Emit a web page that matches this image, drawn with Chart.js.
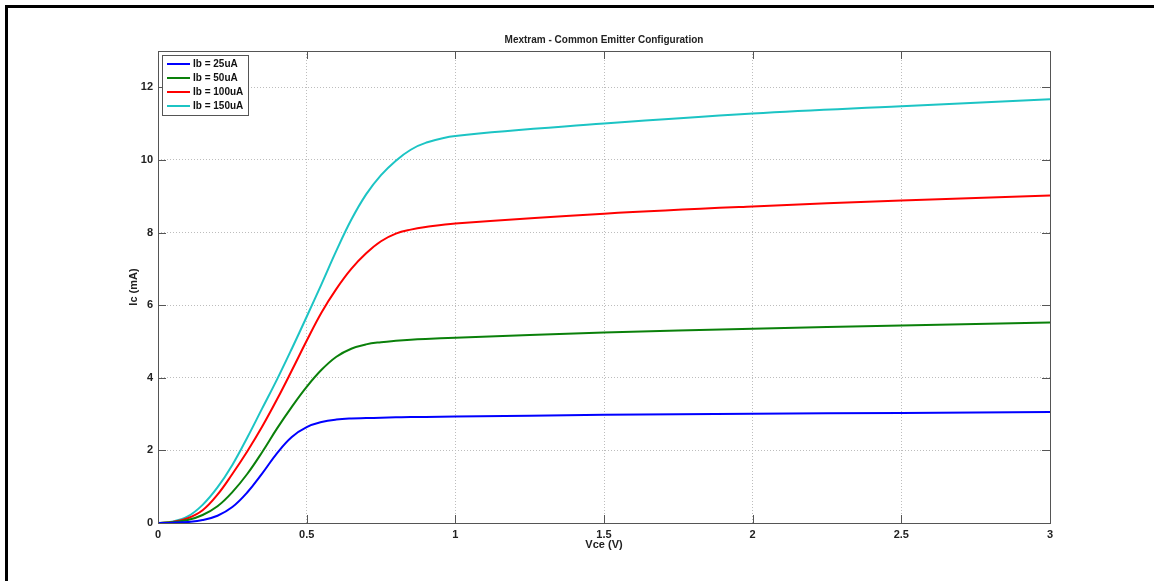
<!DOCTYPE html>
<html>
<head>
<meta charset="utf-8">
<script src="https://cdn.jsdelivr.net/npm/chart.js@4"></script>
<style>
  html, body { margin: 0; padding: 0; background: #fff; }
  #ic-chart { display: block; }
</style>
</head>
<body>
<canvas id="ic-chart" width="1154" height="581"></canvas>
<script>
// data
const vce = [0, 0.05, 0.1, 0.15, 0.2, 0.25, 0.3, 0.35, 0.4, 0.45, 0.5, 0.55, 0.6, 0.65, 0.7, 0.75, 0.8, 0.85, 0.9, 1.0, 1.5, 2, 2.5, 3];
const ib25 = [0, 0.01, 0.03, 0.08, 0.2, 0.44, 0.84, 1.36, 1.92, 2.37, 2.64, 2.78, 2.85, 2.88, 2.89, 2.9, 2.91, 2.92, 2.92, 2.93, 2.98, 3.01, 3.03, 3.06];
const ib50 = [0, 0.02, 0.08, 0.22, 0.46, 0.85, 1.35, 1.95, 2.6, 3.2, 3.75, 4.22, 4.58, 4.8, 4.92, 4.98, 5.02, 5.05, 5.07, 5.1, 5.25, 5.35, 5.44, 5.52];
const ib100 = [0, 0.03, 0.13, 0.35, 0.78, 1.35, 1.97, 2.65, 3.4, 4.2, 5.02, 5.8, 6.45, 7.0, 7.43, 7.76, 7.97, 8.08, 8.15, 8.25, 8.52, 8.72, 8.88, 9.02];
const ib150 = [0, 0.04, 0.18, 0.5, 0.98, 1.6, 2.35, 3.15, 3.95, 4.8, 5.68, 6.58, 7.5, 8.35, 9.05, 9.58, 9.98, 10.28, 10.47, 10.66, 11.0, 11.28, 11.48, 11.67];
const seriesLabels = ['Ib = 25uA', 'Ib = 50uA', 'Ib = 100uA', 'Ib = 150uA'];
const xTicks = [0, 0.5, 1, 1.5, 2, 2.5, 3];
const yTicks = [0, 2, 4, 6, 8, 10, 12];

const colors = ['#0000ff', '#0a800a', '#ff0000', '#1cc4c4'];
const font = "'Liberation Sans', Arial, sans-serif";

function pts(ys) {
    return vce.map(function (x, i) { return { x: x, y: ys[i] }; });
}

// title, outer frame, box, inward ticks and legend, matlab style
const matlabLook = {
    id: 'matlabLook',
    beforeDraw: function (chart) {
        const ctx = chart.ctx;
        ctx.save();
        ctx.fillStyle = '#000';
        ctx.fillRect(5, 5, chart.width - 5, 3);
        ctx.fillRect(5, 5, 3, chart.height - 5);
        ctx.restore();
    },
    afterDatasetsDraw: function (chart) {
        const ctx = chart.ctx;
        const a = chart.chartArea;
        const xs = chart.scales.x, ys = chart.scales.y;
        ctx.save();

        // box
        ctx.strokeStyle = '#555';
        ctx.lineWidth = 1;
        ctx.strokeRect(a.left + 0.5, a.top + 0.5, a.right - a.left, a.bottom - a.top);

        // inward ticks
        ctx.beginPath();
        xTicks.forEach(function (v) {
            const px = Math.round(xs.getPixelForValue(v)) + 0.5;
            ctx.moveTo(px, a.bottom); ctx.lineTo(px, a.bottom - 8);
            ctx.moveTo(px, a.top); ctx.lineTo(px, a.top + 8);
        });
        yTicks.forEach(function (v) {
            const py = Math.round(ys.getPixelForValue(v)) + 0.5;
            ctx.moveTo(a.left, py); ctx.lineTo(a.left + 8, py);
            ctx.moveTo(a.right, py); ctx.lineTo(a.right - 8, py);
        });
        ctx.stroke();

        // title
        ctx.fillStyle = '#222';
        ctx.font = 'bold 10px ' + font;
        ctx.textAlign = 'center';
        ctx.textBaseline = 'middle';
        ctx.fillText('Mextram - Common Emitter Configuration', (a.left + a.right) / 2, 40);

        // legend
        const lx = a.left + 4, ly = a.top + 4, lw = 86, lh = 60;
        ctx.fillStyle = '#fff';
        ctx.fillRect(lx, ly, lw, lh);
        ctx.strokeStyle = '#555';
        ctx.strokeRect(lx + 0.5, ly + 0.5, lw, lh);
        ctx.font = 'bold 10px ' + font;
        ctx.textAlign = 'left';
        chart.data.datasets.forEach(function (ds, i) {
            const y = ly + 9 + i * 14;
            ctx.strokeStyle = ds.borderColor;
            ctx.lineWidth = 2;
            ctx.beginPath();
            ctx.moveTo(lx + 5, y); ctx.lineTo(lx + 28, y);
            ctx.stroke();
            ctx.fillStyle = '#111';
            ctx.fillText(ds.label, lx + 31, y + 0.5);
        });
        ctx.restore();
    }
};

new Chart(document.getElementById('ic-chart'), {
    type: 'line',
    plugins: [matlabLook],
    data: {
        datasets: [ib25, ib50, ib100, ib150].map(function (ys, i) {
            return {
                label: seriesLabels[i],
                data: pts(ys),
                borderColor: colors[i],
                backgroundColor: colors[i],
                borderWidth: 2,
                pointRadius: 0,
                fill: false,
                tension: 0.4
            };
        })
    },
    options: {
        responsive: false,
        animation: false,
        layout: {
            padding: { left: 123, right: 104, top: 51, bottom: 25 }
        },
        scales: {
            x: {
                type: 'linear',
                min: 0,
                max: 3,
                afterBuildTicks: function (scale) {
                    scale.ticks = xTicks.map(function (v) { return { value: v }; });
                },
                afterFit: function (scale) { scale.height = 33; },
                grid: {
                    color: '#bdbdbd',
                    drawTicks: false
                },
                border: { display: false, dash: [1, 2] },
                ticks: {
                    padding: 5,
                    color: '#222',
                    font: { family: font, size: 11, weight: 'bold' },
                    maxRotation: 0,
                    callback: function (v) { return String(v); }
                },
                title: {
                    display: true,
                    text: 'Vce (V)',
                    color: '#222',
                    font: { family: font, size: 11, weight: 'bold' }
                }
            },
            y: {
                type: 'linear',
                min: 0,
                max: 13,
                afterBuildTicks: function (scale) {
                    scale.ticks = yTicks.map(function (v) { return { value: v }; });
                },
                afterFit: function (scale) { scale.width = 35; },
                grid: {
                    color: '#bdbdbd',
                    drawTicks: false
                },
                border: { display: false, dash: [1, 2] },
                ticks: {
                    padding: 5,
                    color: '#222',
                    font: { family: font, size: 11, weight: 'bold' }
                },
                title: {
                    display: true,
                    text: 'Ic (mA)',
                    color: '#222',
                    font: { family: font, size: 11, weight: 'bold' }
                }
            }
        },
        plugins: {
            legend: { display: false },
            title: { display: false },
            tooltip: { enabled: false }
        }
    }
});
</script>
</body>
</html>
